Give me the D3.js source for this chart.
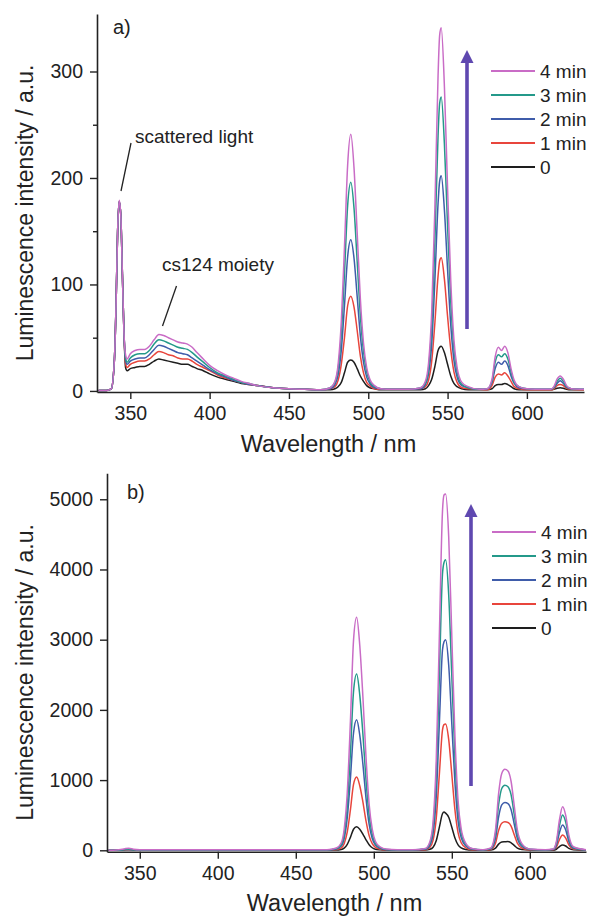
<!DOCTYPE html>
<html>
<head>
<meta charset="utf-8">
<script src="https://cdn.jsdelivr.net/npm/d3@7"></script>
<style>
  body { margin: 0; background: #fff; }
  svg { display: block; font-family: "Liberation Sans", Arial, sans-serif; }
</style>
</head>
<body>
<svg id="chart" width="590" height="916"></svg>
<script>
// ---- data ----
let seriesNames = ["0", "1 min", "2 min", "3 min", "4 min"];
let seriesColors = ["#1e1e1e", "#e8453c", "#3f5caa", "#24998a", "#c96cc6"];
let xTicks = [350, 400, 450, 500, 550, 600];
let yTicksA = [0, 100, 200, 300];
let yMinorA = [50, 150, 250];
let yTicksB = [0, 1000, 2000, 3000, 4000, 5000];

// panel a) wavelengths (nm)
let wlA = [330, 335, 338, 340, 341, 342, 343, 344, 345, 346, 347, 348,
  350, 353, 356, 359, 362, 365, 368, 371, 374, 377, 380, 383, 386, 389, 392, 396, 400, 405, 410, 415, 420, 425, 430, 440, 450, 460, 470,
  476, 479, 481, 483, 485, 487, 489, 491, 493, 495, 497, 499, 501, 504, 508,
  515, 525,
  533, 536, 538, 540, 542, 544, 545, 546, 548, 550, 552, 554, 556, 559, 563,
  570,
  575, 578, 580, 582, 584, 586, 588, 590, 592, 595, 600,
  610,
  615, 617, 619, 621, 623, 625, 628,
  636];

let aMin0 = [0.5, 0.5, 2, 30, 80, 150, 178, 165, 110, 55, 22, 19,
  21, 22, 23, 23, 25, 28, 30, 29, 28, 27, 26, 25, 25, 23, 21, 19, 16, 13, 11, 9, 7, 6, 5, 3, 2, 1.5, 1,
  1, 2, 4, 8, 17, 27, 29, 27, 21, 14, 9, 5, 3, 2, 1,
  1, 1,
  1, 2, 5, 11, 23, 38, 41, 42, 36, 25, 14, 7, 4, 2, 1,
  1,
  1, 2, 5, 6, 6, 7, 6, 4, 2, 1, 1,
  1,
  1, 1.5, 2.5, 3, 2.5, 1.5, 1,
  1];
let aMin1 = [0.5, 0.5, 2, 30, 80, 150, 178, 165, 110, 55, 26, 22,
  25, 27, 28, 28, 30, 34, 37, 36, 34, 33, 31, 30, 30, 28, 25, 22, 19, 15, 12, 10, 8, 6, 5, 3, 2, 1.5, 1,
  2, 4, 10, 25, 50, 80, 89, 79, 57, 33, 17, 8, 5, 2, 1.5,
  1.5, 1.5,
  2, 4, 10, 28, 64, 108, 122, 125, 105, 70, 39, 18, 8, 3, 2,
  1.5,
  1, 5, 13, 16, 15, 17, 14, 9, 4, 2, 1,
  1,
  1, 2, 5, 6, 5, 2.5, 1.5,
  1];
let aMin2 = [0.5, 0.5, 2, 30, 80, 150, 178, 165, 110, 55, 29, 25,
  28, 30, 31, 31, 34, 39, 43, 42, 40, 38, 36, 35, 34, 31, 28, 24, 20, 16, 13, 10, 8, 6, 5, 3, 2, 1.5, 1,
  2, 6, 15, 38, 80, 126, 142, 125, 89, 52, 27, 13, 7, 3, 2,
  1.5, 1.5,
  2, 6, 16, 44, 104, 176, 197, 202, 170, 114, 62, 29, 13, 5, 3,
  1.5,
  2, 8, 21, 27, 25, 28, 24, 14, 7, 3, 2,
  1.5,
  1.5, 3, 7, 9.5, 7, 3.5, 2,
  1.5];
let aMin3 = [0.5, 0.5, 2, 30, 80, 150, 178, 165, 110, 55, 31, 27,
  31, 34, 35, 35, 38, 44, 48, 47, 45, 43, 41, 40, 39, 36, 32, 27, 22, 17, 14, 11, 8, 7, 5, 3, 2, 1.5, 1,
  3, 8, 21, 53, 110, 174, 196, 172, 122, 71, 37, 18, 9, 4, 2,
  1.5, 1.5,
  3, 7, 21, 60, 140, 240, 270, 276, 232, 155, 84, 40, 18, 6, 3,
  1.5,
  2, 9, 27, 34, 32, 35, 30, 18, 8, 4, 2,
  1.5,
  1.5, 3, 9, 12, 9, 4, 2,
  1.5];
let aMin4 = [0.5, 0.5, 2, 30, 80, 150, 179, 165, 110, 55, 34, 30,
  35, 38, 39, 39, 42, 48, 53, 52, 50, 48, 46, 45, 44, 41, 36, 30, 24, 19, 15, 12, 9, 7, 5, 3, 2, 1.5, 1,
  3, 9, 25, 65, 135, 212, 241, 210, 149, 87, 45, 22, 11, 5, 2,
  1.5, 1.5,
  3, 9, 26, 74, 172, 296, 334, 341, 286, 190, 104, 48, 22, 8, 4,
  1.5,
  2, 11, 32, 41, 38, 42, 36, 21, 10, 4, 2,
  1.5,
  1.5, 4, 11, 14, 11, 5, 2,
  1.5];

// panel b) wavelengths (nm)
let wlB = [330, 335, 340, 343, 346, 350, 360, 380, 400, 420, 440, 460, 470,
  476, 479, 481, 483, 485, 487, 489, 491, 493, 495, 497, 499, 501, 504, 508,
  515, 525,
  533, 536, 538, 540, 542, 544, 545, 546, 548, 550, 552, 554, 556, 559, 563,
  570,
  575, 578, 580, 582, 584, 586, 588, 590, 592, 595, 600,
  610,
  615, 617, 619, 621, 623, 625, 628,
  636];

let bMin0 = [0, 0, 5, 8, 5, 3, 3, 3, 3, 3, 3, 3, 3,
  3, 10, 30, 84, 184, 300, 335, 300, 230, 150, 80, 36, 15, 6, 2,
  2, 2,
  3, 14, 44, 136, 327, 520, 545, 530, 470, 327, 175, 76, 33, 11, 3,
  2,
  4, 31, 88, 118, 122, 125, 106, 70, 31, 10, 3,
  2,
  2, 15, 53, 76, 61, 27, 6,
  2];
let bMin1 = [0, 0, 5, 10, 6, 4, 4, 4, 4, 4, 4, 4, 4,
  10, 31, 94, 261, 575, 940, 1045, 920, 690, 418, 209, 94, 42, 16, 5,
  4, 4,
  9, 45, 144, 450, 1080, 1710, 1790, 1800, 1580, 1080, 576, 252, 108, 36, 9,
  4,
  12, 100, 284, 385, 405, 397, 344, 223, 100, 32, 6,
  4,
  7, 44, 153, 218, 174, 76, 17,
  4];
let bMin2 = [0, 0, 8, 12, 7, 5, 5, 5, 5, 5, 5, 5, 5,
  19, 56, 167, 465, 1020, 1670, 1860, 1640, 1230, 744, 372, 167, 74, 28, 9,
  5, 5,
  15, 75, 240, 750, 1800, 2850, 2970, 3000, 2640, 1800, 960, 420, 180, 60, 15,
  5,
  20, 170, 476, 646, 680, 666, 578, 374, 170, 54, 10,
  5,
  11, 72, 253, 361, 289, 126, 29,
  5];
let bMin3 = [0, 0, 10, 15, 8, 6, 6, 6, 6, 6, 6, 6, 6,
  25, 75, 226, 628, 1380, 2260, 2510, 2210, 1660, 1000, 500, 226, 100, 38, 13,
  6, 6,
  21, 104, 330, 1035, 2480, 3930, 4100, 4140, 3640, 2480, 1325, 580, 250, 83, 21,
  6,
  28, 230, 650, 880, 926, 905, 790, 510, 230, 74, 14,
  6,
  15, 100, 352, 503, 402, 176, 40,
  6];
let bMin4 = [0, 5, 20, 30, 15, 8, 8, 8, 8, 8, 8, 8, 8,
  33, 100, 300, 830, 1830, 2990, 3320, 2920, 2190, 1330, 660, 300, 130, 50, 17,
  8, 8,
  25, 127, 406, 1270, 3045, 4820, 5060, 5075, 4470, 3045, 1625, 710, 305, 100, 25,
  8,
  35, 290, 810, 1095, 1154, 1130, 980, 635, 290, 92, 17,
  8,
  19, 124, 435, 621, 497, 217, 50,
  8];

// ---- drawing ----
let textColor = "#222";
let axisColor = "#222";
let arrowColor = "#5f48b0";

let svg = d3.select("#chart");

drawPanel(svg, {
  wl: wlA,
  series: [aMin0, aMin1, aMin2, aMin3, aMin4],
  xRange: [97, 584],
  yDomain: [-1, 354],
  yRange: [392, 14],
  yTicks: yTicksA,
  yMinor: yMinorA,
  tag: "a)", tagX: 113, tagY: 34,
  yTitleX: 33,
  xTitleY: 452,
  legendX: 491, legendY: 71,
  arrowX: 467, arrowY0: 329, arrowY1: 50
});

drawPanel(svg, {
  wl: wlB,
  series: [bMin0, bMin1, bMin2, bMin3, bMin4],
  xRange: [107, 586],
  yDomain: [-20, 5370],
  yRange: [851.7, 473.3],
  yTicks: yTicksB,
  yMinor: [],
  tag: "b)", tagX: 127, tagY: 499,
  yTitleX: 33,
  xTitleY: 911,
  legendX: 492, legendY: 532,
  arrowX: 471, arrowY0: 786, arrowY1: 504
});

// annotations for panel a
svg.append("text")
  .attr("x", 135)
  .attr("y", 143)
  .text("scattered light")
  .style("font-size", "19px")
  .style("fill", textColor);
svg.append("line")
  .attr("x1", 131).attr("y1", 143)
  .attr("x2", 121).attr("y2", 191)
  .style("stroke", textColor)
  .style("stroke-width", 1.3);
svg.append("text")
  .attr("x", 162)
  .attr("y", 271)
  .text("cs124 moiety")
  .style("font-size", "19px")
  .style("fill", textColor);
svg.append("line")
  .attr("x1", 176.5).attr("y1", 286)
  .attr("x2", 162.5).attr("y2", 326)
  .style("stroke", textColor)
  .style("stroke-width", 1.3);

function drawPanel(svg, p) {
  let xScale = d3.scaleLinear()
    .domain([329, 636])
    .range(p.xRange);
  let yScale = d3.scaleLinear()
    .domain(p.yDomain)
    .range(p.yRange);

  let g = svg.append("g");

  // spectra, 0 first so 4 min sits on top
  let line = d3.line()
    .x((d, i) => xScale(p.wl[i]))
    .y(d => yScale(d))
    .curve(d3.curveMonotoneX);
  p.series.forEach(function(s, k) {
    g.append("path")
      .datum(s)
      .attr("d", line)
      .style("fill", "none")
      .style("stroke", seriesColors[k])
      .style("stroke-width", 1.5)
      .style("stroke-linejoin", "round");
  });

  // axes
  let xAxis = d3.axisBottom(xScale)
    .tickValues(xTicks)
    .tickSize(7)
    .tickSizeOuter(0)
    .tickPadding(7)
    .tickFormat(d3.format("d"));
  let yAxis = d3.axisLeft(yScale)
    .tickValues(p.yTicks)
    .tickSize(7)
    .tickSizeOuter(0)
    .tickPadding(7)
    .tickFormat(d3.format("d"));

  let gx = g.append("g")
    .attr("transform", "translate(0," + p.yRange[0] + ")")
    .call(xAxis);
  let gy = g.append("g")
    .attr("transform", "translate(" + p.xRange[0] + ",0)")
    .call(yAxis);

  g.append("g")
    .attr("transform", "translate(" + p.xRange[0] + ",0)")
    .call(d3.axisLeft(yScale).tickValues(p.yMinor).tickSize(4).tickSizeOuter(0).tickFormat(""))
    .select(".domain").remove();

  [gx, gy].forEach(function(a) {
    a.select(".domain").style("stroke", axisColor).style("stroke-width", 1.6);
    a.selectAll(".tick text")
      .style("font-size", "19.5px")
      .style("font-family", "'Liberation Sans', Arial, sans-serif")
      .style("fill", textColor);
  });
  g.selectAll(".tick line").style("stroke", axisColor).style("stroke-width", 1.4);

  // axis titles
  g.append("text")
    .attr("x", (p.xRange[0] + p.xRange[1]) / 2 - 12)
    .attr("y", p.xTitleY)
    .text("Wavelength / nm")
    .style("text-anchor", "middle")
    .style("font-size", "23.5px")
    .style("fill", textColor);
  g.append("text")
    .attr("transform", "translate(" + p.yTitleX + "," + ((p.yRange[0] + p.yRange[1]) / 2 + 10) + ") rotate(-90)")
    .text("Luminescence intensity / a.u.")
    .style("text-anchor", "middle")
    .style("font-size", "23px")
    .style("fill", textColor);

  // panel tag
  g.append("text")
    .attr("x", p.tagX)
    .attr("y", p.tagY)
    .text(p.tag)
    .style("font-size", "20px")
    .style("fill", textColor);

  // legend (4 min at the top)
  let order = [4, 3, 2, 1, 0];
  order.forEach(function(k, r) {
    let y = p.legendY + r * 24;
    g.append("line")
      .attr("x1", p.legendX).attr("x2", p.legendX + 44)
      .attr("y1", y).attr("y2", y)
      .style("stroke", seriesColors[k])
      .style("stroke-width", 2);
    g.append("text")
      .attr("x", p.legendX + 49)
      .attr("y", y)
      .attr("dy", "0.36em")
      .text(seriesNames[k])
      .style("font-size", "19px")
      .style("fill", textColor);
  });

  // growth arrow
  g.append("line")
    .attr("x1", p.arrowX).attr("x2", p.arrowX)
    .attr("y1", p.arrowY0).attr("y2", p.arrowY1 + 10)
    .style("stroke", arrowColor)
    .style("stroke-width", 3.6);
  g.append("path")
    .attr("d", "M" + p.arrowX + "," + p.arrowY1 +
      "L" + (p.arrowX + 6.5) + "," + (p.arrowY1 + 13) +
      "L" + (p.arrowX - 6.5) + "," + (p.arrowY1 + 13) + "Z")
    .style("fill", arrowColor);
}
</script>
</body>
</html>
